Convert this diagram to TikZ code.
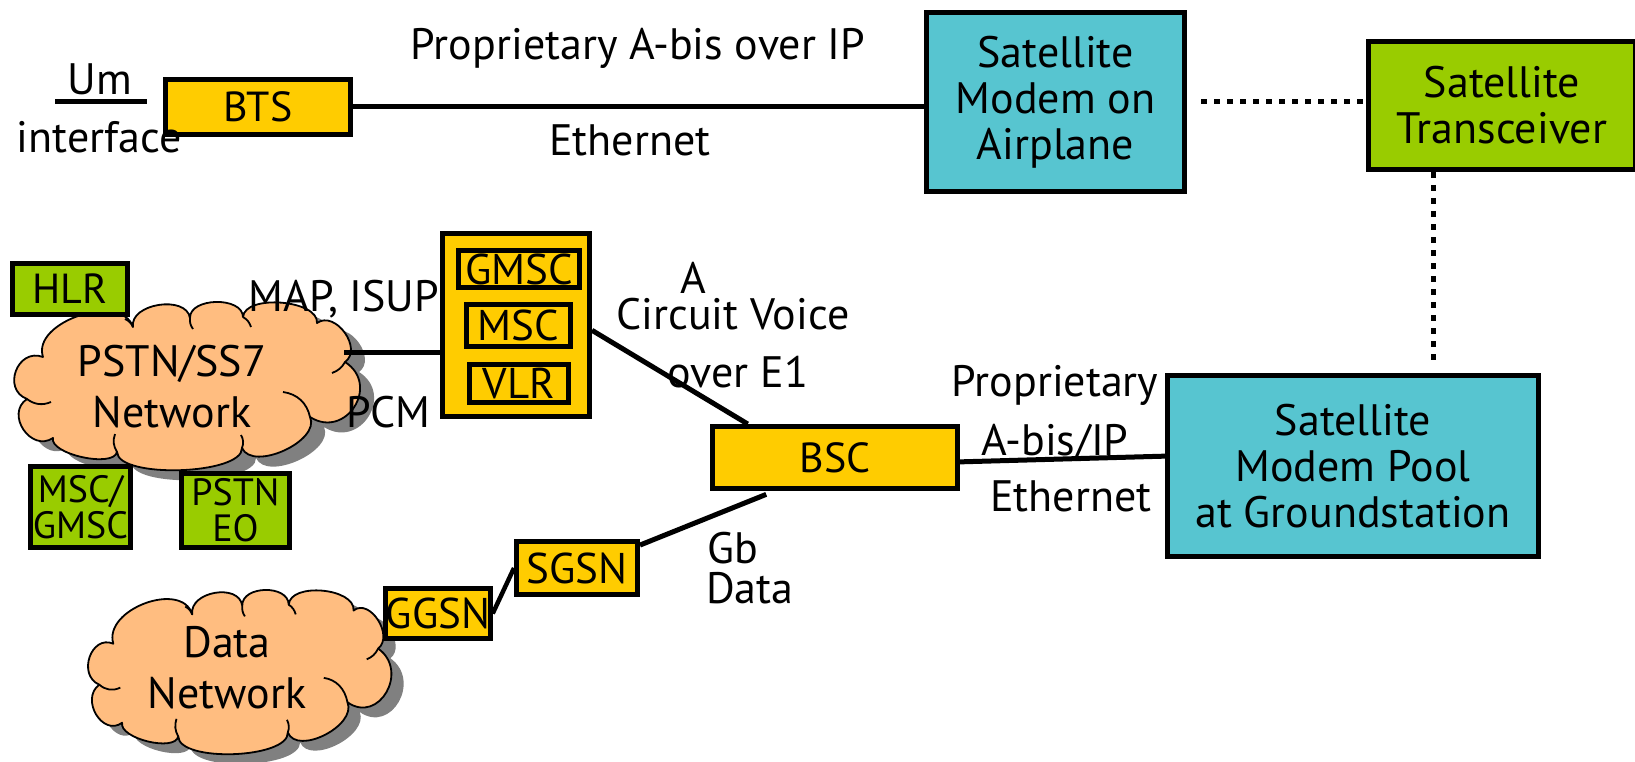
\documentclass[tikz,border=0pt]{standalone}
\usepackage{fontspec}
\setmainfont{PT Sans}
\usetikzlibrary{calc}
\definecolor{boxyellow}{HTML}{FFCC00}
\definecolor{boxcyan}{HTML}{57C5D0}
\definecolor{boxgreen}{HTML}{99CC00}
\definecolor{cloudfill}{HTML}{FFBD80}
\definecolor{shadowgray}{HTML}{808080}
\tikzset{
  txt/.style={font=\fontsize{44}{46}\selectfont, align=center, inner sep=0pt, text=black},
  box/.style={txt, draw=black, line width=5pt},
  ybox/.style={box, fill=boxyellow},
  cbox/.style={box, fill=boxcyan},
  gbox/.style={box, fill=boxgreen},
  smallfont/.style={font=\fontsize{42}{46}\selectfont},
  inbox/.style={ybox, line width=4.5pt, font=\fontsize{43}{46}\selectfont},
  tightfont/.style={font=\fontsize{38}{36}\selectfont},
  link/.style={line width=5pt},
  dotlink/.style={line width=5pt, dash pattern=on 6pt off 7pt},
  cloudedge/.style={draw=black, line width=1.8pt, line join=round},
  puff/.style={bend left=90, looseness=#1},
  % cloud outline with drop shadow and the short inner strokes
  pics/netcloud/.style={code={
    \fill[shadowgray, shift={(14,10)}]
      (30,55) to[puff=1.0] (120,25) to[puff=1.05] (177,16) to[puff=1.0] (230,15)
      to[puff=0.8] (304,21) to[puff=1.2] (332,60) to[puff=1.67] (297,115)
      to[puff=0.9] (229,146) to[puff=0.55] (104,150) to[puff=0.65] (40,136)
      to[puff=1.45] (14,97) to[puff=1.55] (30,55) -- cycle;
    \path[cloudedge, fill=cloudfill]
      (30,55) to[puff=1.0] (120,25) to[puff=1.05] (177,16) to[puff=1.0] (230,15)
      to[puff=0.8] (304,21) to[puff=1.2] (332,60) to[puff=1.67] (297,115)
      to[puff=0.9] (229,146) to[puff=0.55] (104,150) to[puff=0.65] (40,136)
      to[puff=1.45] (14,97) to[puff=1.55] (30,55) -- cycle;
    \draw[cloudedge] (14,97) to[bend right=30] (38,100);
    \draw[cloudedge] (104,150) to[bend left=25] (102,132);
    \draw[cloudedge] (229,146) to[bend right=25] (228,133);
    \draw[cloudedge] (270,90) to[bend left=35] (297,115);
    \draw[cloudedge] (332,60) to[bend left=20] (319,71);
    \draw[cloudedge] (230,15) to[bend left=20] (238,25);
    \draw[cloudedge] (177,16) to[bend right=20] (180,27);
    \draw[cloudedge] (120,25) to[bend right=20] (112,17);
  }},
}
\begin{document}
\begin{tikzpicture}[x=1pt,y=-1pt]
\useasboundingbox (0,0) rectangle (1635,762);

% ---- clouds ----
\pic (pstn) at (13,302) {netcloud};
\pic[xscale=0.877, yscale=0.976] (data) at (87,590) {netcloud};

% ---- boxes ----
\node[ybox, smallfont, minimum width=185pt, minimum height=55pt] (bts) at (258,107) {BTS};
\node[cbox, minimum width=258pt, minimum height=179pt] (modem) at (1055.5,102)
  {Satellite\\Modem on\\Airplane};
\node[gbox, minimum width=267pt, minimum height=128pt] (trans) at (1502,105.5)
  {Satellite\\Transceiver};
\node[cbox, minimum width=371pt, minimum height=181pt] (pool) at (1353,466)
  {Satellite\\Modem Pool\\at Groundstation};
\node[ybox, smallfont, minimum width=245pt, minimum height=62pt] (bsc) at (835,457.5)
  {\raisebox{-10pt}{BSC}};

\node[ybox, minimum width=147pt, minimum height=183pt] (stack) at (516,325) {};
\node[inbox, minimum width=121pt, minimum height=37pt] (gmsc) at (519,269) {\raisebox{-3pt}{GMSC}};
\node[inbox, minimum width=104pt, minimum height=42pt] (msc) at (518.5,325.5) {MSC};
\node[inbox, minimum width=99pt, minimum height=38pt] (vlr) at (519,383.5) {\raisebox{-5pt}{VLR}};

\node[gbox, smallfont, minimum width=115pt, minimum height=51pt] (hlr) at (70,289) {HLR};
\node[gbox, tightfont, minimum width=100pt, minimum height=81pt] (mscg) at (80.5,507) {MSC/\\GMSC};
\node[gbox, tightfont, minimum width=108pt, minimum height=74pt] (eo) at (235.5,510.5) {PSTN\\EO};

\node[ybox, inbox, line width=5pt, minimum width=121pt, minimum height=53pt] (sgsn) at (577,568) {SGSN};
\node[ybox, inbox, line width=5pt, minimum width=99pt, minimum height=50pt] (ggsn) at (438,613.5) {GGSN};

% ---- connectors ----
\coordinate (umA) at (55,102);
\coordinate (umB) at (147,102);
\draw[link] (umA) -- (umB);
\draw[link] (bts.east) -- (bts.east -| modem.west);
\draw[dotlink, shorten <=14pt] (modem.east) -- (modem.east -| trans.west);
\coordinate (vx) at (1433,0);
\draw[dotlink, shorten >=10pt] (vx |- trans.south) -- (vx |- pool.north);
\coordinate (pcmA) at (344,352);
\draw[link] (pcmA) -- (pcmA -| stack.west);
\draw[link] (stack.-4.5) -- (bsc.159.6);
\draw[link] (bsc.-2.5) -- (pool.177.3);
\draw[link, shorten >=9pt] (sgsn.20) -- (bsc.209.6);
\draw[link, line width=4.5pt] (ggsn.east) -- (sgsn.west);

% ---- labels ----
\node[txt, anchor=base] (lum) at (100,95) {Um};
\node[txt, anchor=base] (lif) at (99,153) {interface};
\node[txt, anchor=base] (lprop1) at (638,60) {Proprietary A-bis over IP};
\node[txt, anchor=base] (leth1) at (630,156) {Ethernet};
\node[txt, anchor=base] (lmap) at (344,311) {MAP, ISUP};
\node[txt, anchor=base] (lpcm) at (388,427) {PCM};
\node[txt, anchor=base] (la) at (693,293) {A};
\node[txt, anchor=base] (lcv) at (733,329) {Circuit Voice};
\node[txt, anchor=base] (le1) at (738,387) {over E1};
\node[txt, anchor=base] (lprop2) at (1055,396) {Proprietary};
\node[txt, anchor=base] (labis) at (1055,455) {A-bis/IP};
\node[txt, anchor=base] (leth2) at (1071,511) {Ethernet};
\node[txt, anchor=base west] (lgb) at (707,563) {Gb};
\node[txt, anchor=base west] (ldata) at (706,603) {Data};
\node[txt, anchor=base] (lpstn) at (172,376) {PSTN/SS7};
\node[txt, anchor=base] (lpstn2) at (172,427) {Network};
\node[txt, anchor=base] (ldn) at (227,657) {Data};
\node[txt, anchor=base] (ldn2) at (227,708) {Network};
\end{tikzpicture}
\end{document}
